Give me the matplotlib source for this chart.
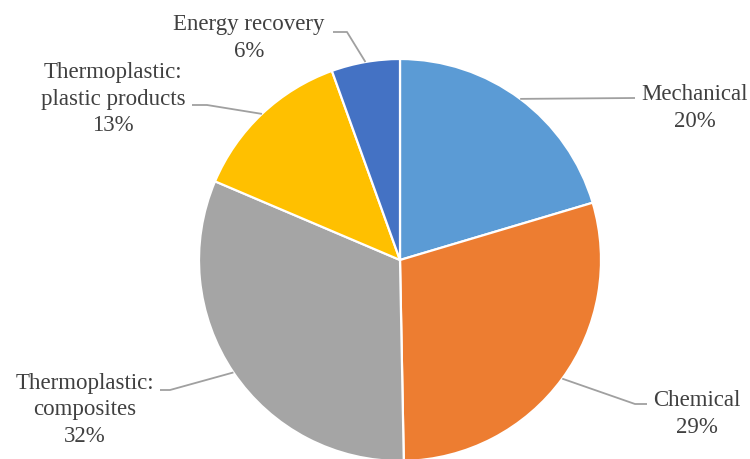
import numpy as np
import matplotlib
matplotlib.use("Agg")
import matplotlib.pyplot as plt

categories = ["Mechanical", "Chemical", "Thermoplastic:\ncomposites",
              "Thermoplastic:\nplastic products", "Energy recovery"]
# wedge sizes; labels as printed
shares = [20.4, 29.3, 31.7, 13.1, 5.5]
percent_labels = [20, 29, 32, 13, 6]
colors = ["#5B9BD5", "#ED7D31", "#A5A5A5", "#FFC000", "#4472C4"]

W, H = 750, 459
CX, CY, R = 400, 260, 201  # pie centre / radius in pixels

fig = plt.figure(figsize=(W / 100, H / 100), dpi=100)
ax = fig.add_axes([0, 0, 1, 1])
ax.axis("off")

wedges, _ = ax.pie(shares, colors=colors, startangle=90, counterclock=False,
                   radius=1.0, wedgeprops=dict(edgecolor="white", linewidth=1.6))
ax.set_xlim(-CX / R, (W - CX) / R)
ax.set_ylim(-(H - CY) / R, CY / R)
ax.set_aspect("auto")


def p(px, py):
    return (px - CX) / R, (CY - py) / R


# label layout: (text centre px, leader elbow px, leader end px)
layout = [
    ((695, 108), (635, 98), (635, 98)),
    ((697, 414), (635, 404), (647, 404)),
    ((85, 410), (170, 390), (160, 390)),
    ((113, 99), (207, 105), (192, 105)),
    ((249, 38), (347, 32), (333, 32)),
]

line_col = "#A0A0A0"
text_col = "#404040"
for w, cat, v, (tc, elbow, end) in zip(wedges, categories, percent_labels, layout):
    ang = np.deg2rad((w.theta1 + w.theta2) / 2)
    x0, y0 = np.cos(ang), np.sin(ang)
    ex, ey = p(*elbow)
    nx, ny = p(*end)
    ax.plot([x0, ex, nx], [y0, ey, ny], color=line_col, lw=1.3,
            solid_capstyle="butt", zorder=1)
    tx, ty = p(*tc)
    ax.text(tx, ty, f"{cat}\n{v}%", ha="center", va="center",
            fontsize=16.5, family="Liberation Serif", color=text_col,
            linespacing=1.35)

fig.savefig("out.png", dpi=100)
